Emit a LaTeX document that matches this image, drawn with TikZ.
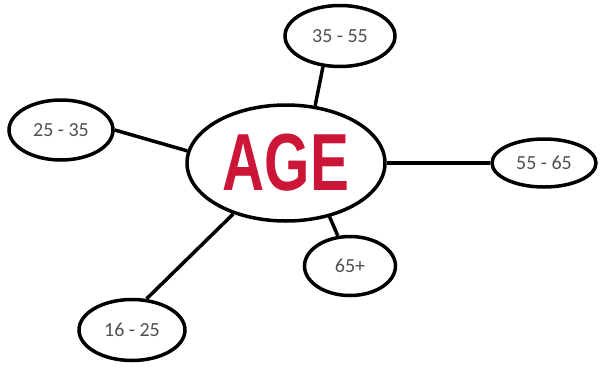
\documentclass[tikz,border=0pt]{standalone}
\usepackage{fontspec}
\usepackage{graphicx}
\setmainfont{Carlito}
\newfontfamily\agefont{Liberation Sans}
\usetikzlibrary{shapes.geometric}
\definecolor{agered}{RGB}{204,22,56}
\definecolor{labelgrey}{RGB}{80,80,80}
\begin{document}
\begin{tikzpicture}[x=1pt,y=-1pt,line width=3.5pt,
        group/.style={draw,ellipse,inner sep=0pt,text=labelgrey,font=\fontsize{20}{20}\selectfont}]
        \useasboundingbox (0,0) rectangle (603,368);
        \node[draw,ellipse,inner sep=0pt,minimum width=198,minimum height=116] (age) at (286,163)
            {\agefont\bfseries\fontsize{81}{81}\selectfont\color{agered}\scalebox{0.72}[1]{AGE}};
        \node[group,minimum width=104,minimum height=60] (a25) at (61,130) {25 - 35};
        \node[group,minimum width=110,minimum height=61] (a35) at (340,36) {35 - 55};
        \node[group,minimum width=104,minimum height=48] (a55) at (544,163) {55 - 65};
        \node[group,minimum width=91,minimum height=59] (a65) at (350,266) {65+};
        \node[group,minimum width=106,minimum height=61] (a16) at (132,330) {16 - 25};

        \draw[-] (age.173) -- (a25.east);
        \draw[-] (age.63) -- (a35.241);
        \draw[-] (age.east) -- (a55.west);
        \draw[-] (age.309) -- (a65.112);
        % \draw[-] (age) -- (a16);
        \draw[-] (age.224) -- (a16.65);

    \end{tikzpicture}
\end{document}
